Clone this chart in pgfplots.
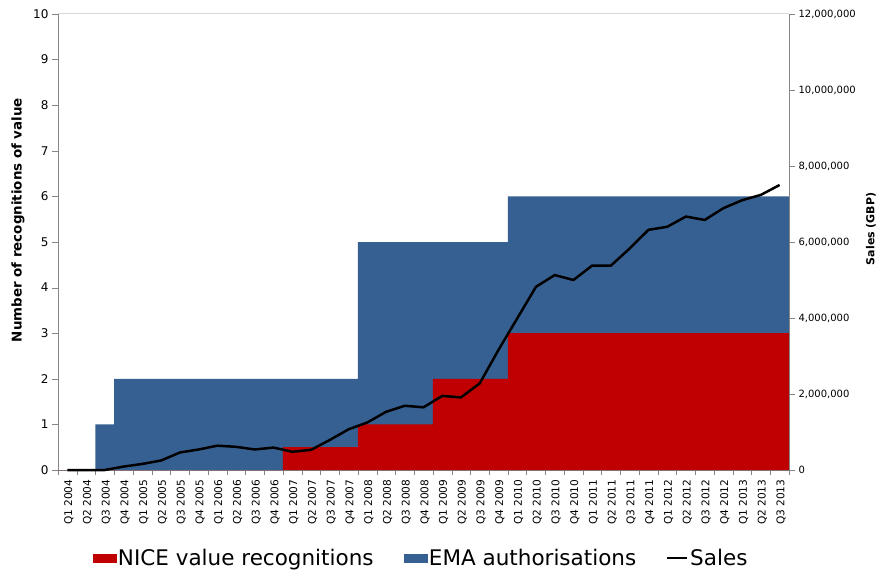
\documentclass[border=0pt]{standalone}
\usepackage{pgfplots}
\pgfplotsset{compat=1.18}
\usepackage{fontspec}
\setmainfont{DejaVu Sans}
\definecolor{nicered}{RGB}{192,0,0}
\definecolor{emablue}{RGB}{55,96,146}
\definecolor{axgray}{RGB}{134,134,134}
\definecolor{topgray}{RGB}{217,217,217}
\begin{document}
\begin{tikzpicture}
\useasboundingbox (-58pt,-101pt) rectangle (823pt,470pt);
\begin{axis}[
  at={(0pt,0pt)}, anchor=south west,
  width=731pt, height=456pt, scale only axis,
  xmin=-0.5, xmax=38.5, ymin=0, ymax=10,
  axis x line*=bottom, axis y line*=left,
  x axis line style={draw=axgray,-}, y axis line style={draw=axgray,-},
  xtick={0,...,38},
  xticklabels={Q1 2004,Q2 2004,Q3 2004,Q4 2004,Q1 2005,Q2 2005,Q3 2005,Q4 2005,Q1 2006,Q2 2006,Q3 2006,Q4 2006,Q1 2007,Q2 2007,Q3 2007,Q4 2007,Q1 2008,Q2 2008,Q3 2008,Q4 2008,Q1 2009,Q2 2009,Q3 2009,Q4 2009,Q1 2010,Q2 2010,Q3 2010,Q4 2010,Q1 2011,Q2 2011,Q3 2011,Q4 2011,Q1 2012,Q2 2012,Q3 2012,Q4 2012,Q1 2013,Q2 2013,Q3 2013},
  minor xtick={-0.5,0.5,...,38.5},
  ytick={0,1,...,10},
  tick align=outside, major tick length=6pt, minor tick length=5pt,
  major x tick style={draw=none}, minor x tick style={draw=axgray},
  major y tick style={draw=axgray},
  x tick label style={rotate=90, anchor=east, yshift=-1.5pt, font=\fontsize{10.6}{12}\selectfont},
  y tick label style={font=\fontsize{12}{14}\selectfont},
  /pgf/number format/assume math mode=true,
  ylabel={Number of recognitions of value},
  ylabel style={at={(axis description cs:-0.0547,0.548)}, anchor=center, rotate=0, font=\bfseries\fontsize{13.4}{15}\selectfont},
  legend columns=3,
  legend style={at={(0.4966,-0.193)}, anchor=center, draw=none, fill=none,
    font=\fontsize{21.5}{24}\selectfont, inner sep=0pt,
    /tikz/every even column/.append style={column sep=28pt}},
]
\addplot[fill=emablue, draw=none, const plot, forget plot] coordinates {
  (-0.5,0) (1.5,1) (2.5,2) (15.5,5) (23.5,6) (38.5,6)
} \closedcycle;
\addplot[fill=nicered, draw=none, const plot, forget plot] coordinates {
  (-0.5,0) (11.5,0.5) (15.5,1) (19.5,2) (23.5,3) (38.5,3)
} \closedcycle;
\draw[topgray, line width=1pt] (rel axis cs:0,1) -- (rel axis cs:1,1);
\addlegendimage{legend image code/.code={\fill[nicered] (0pt,-4pt) rectangle (23pt,4pt);}}
\addlegendentry{NICE value recognitions}
\addlegendimage{legend image code/.code={\fill[emablue] (0pt,-4pt) rectangle (23pt,4pt);}}
\addlegendentry{EMA authorisations}
\addlegendimage{legend image code/.code={\draw[black, line width=2pt] (0pt,0pt) -- (20pt,0pt);}}
\addlegendentry{Sales}
\end{axis}
\begin{axis}[
  at={(0pt,0pt)}, anchor=south west,
  width=731pt, height=456pt, scale only axis,
  xmin=-0.5, xmax=38.5, ymin=0, ymax=12,
  axis x line=none, axis y line*=right,
  y axis line style={draw=axgray,-},
  ytick={0,2,...,12},
  yticklabels={0,{2,000,000},{4,000,000},{6,000,000},{8,000,000},{10,000,000},{12,000,000}},
  tick align=outside, major tick length=6pt,
  major y tick style={draw=axgray},
  y tick label style={font=\fontsize{10}{12}\selectfont},
  ylabel={Sales (GBP)},
  ylabel style={at={(axis description cs:1.112,0.529)}, anchor=center, rotate=0, font=\bfseries\fontsize{11}{13}\selectfont},
  clip=false,
]
\addplot[black, line width=2.5pt, line join=round] coordinates {
(0,0) (1,0) (2,0) (3,0.09) (4,0.16) (5,0.25) (6,0.46) (7,0.54) (8,0.64) (9,0.61)
(10,0.54) (11,0.59) (12,0.48) (13,0.53) (14,0.79) (15,1.07) (16,1.25) (17,1.53) (18,1.69) (19,1.65)
(20,1.95) (21,1.91) (22,2.28) (23,3.16) (24,3.99) (25,4.82) (26,5.13) (27,5.00) (28,5.38) (29,5.38)
(30,5.83) (31,6.32) (32,6.40) (33,6.67) (34,6.58) (35,6.89) (36,7.10) (37,7.24) (38,7.50)
};
\end{axis}
\end{tikzpicture}
\end{document}
